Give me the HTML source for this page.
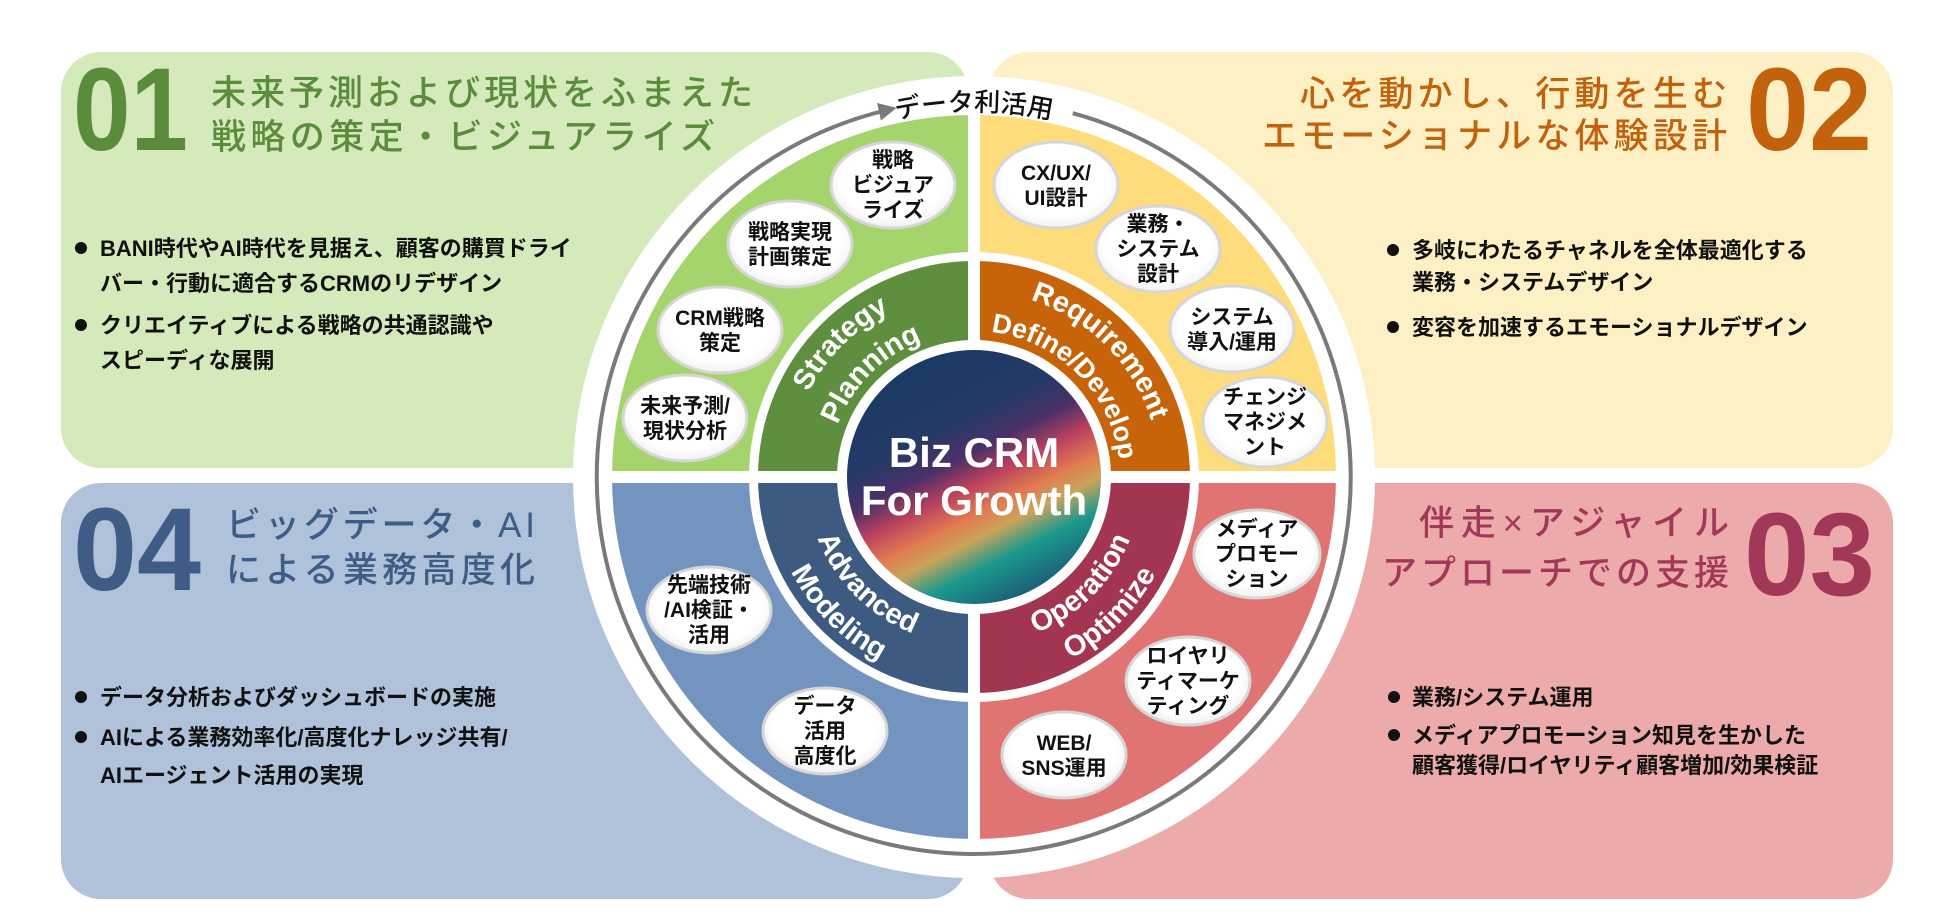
<!DOCTYPE html>
<html><head><meta charset="utf-8">
<style>
html,body{margin:0;padding:0;background:#fff;}
svg{display:block;}
text{font-family:"Liberation Sans","Noto Sans CJK JP",sans-serif;}
</style></head>
<body>
<svg width="1950" height="916" viewBox="0 0 1950 916" xmlns="http://www.w3.org/2000/svg">
<defs>
<linearGradient id="cg" x1="0.25" y1="0" x2="0.75" y2="1">
<stop offset="0" stop-color="#173a63"/>
<stop offset="0.3" stop-color="#243a66"/>
<stop offset="0.42" stop-color="#4a3068"/>
<stop offset="0.52" stop-color="#b8405e"/>
<stop offset="0.62" stop-color="#e27a50"/>
<stop offset="0.7" stop-color="#c9a45a"/>
<stop offset="0.8" stop-color="#1d9a8c"/>
<stop offset="1" stop-color="#1b4a72"/>
</linearGradient>
<radialGradient id="bub" cx="0.5" cy="0.45" r="0.6">
<stop offset="0.7" stop-color="#ffffff"/>
<stop offset="1" stop-color="#ececec"/>
</radialGradient>
<marker id="ah" viewBox="0 0 10 10" refX="8" refY="5" markerWidth="18" markerHeight="18" markerUnits="userSpaceOnUse" orient="auto"><path d="M0,0 L10,5 L0,10 z" fill="#7a7a7a"/></marker>
<path id="tArc1" d="M788,477 A186,186 0 0 1 1160,477"/>
<path id="tArc2" d="M828,477 A146,146 0 0 1 1120,477"/>
<path id="bArc1" d="M806,477 A168,168 0 0 0 1142,477"/>
<path id="bArc2" d="M768,477 A206,206 0 0 0 1180,477"/>
<path id="ringT" d="M608,477 A366,366 0 0 1 1340,477"/>
</defs>

<rect x="61" y="52" width="907" height="416" rx="40" fill="#d4eabb"/>
<rect x="989" y="52" width="904" height="416" rx="40" fill="#fdf0c5"/>
<rect x="61" y="483" width="907" height="416" rx="40" fill="#b0c2d9"/>
<rect x="989" y="483" width="904" height="416" rx="40" fill="#edaaab"/>

<circle cx="974" cy="477" r="401" fill="#fff"/>
<path d="M1072.8,113.2 A377,377 0 1 1 893,108.7" fill="none" stroke="#7a7a7a" stroke-width="4" marker-end="url(#ah)"/>
<text font-size="26" font-weight="500" fill="#111" text-anchor="middle"><textPath href="#ringT" startOffset="50%">データ利活用</textPath></text>

<path d="M974,477 L612,477 A362,362 0 0 1 974,115 Z" fill="#a5d46c"/>
<path d="M974,477 L974,115 A362,362 0 0 1 1336,477 Z" fill="#fedc7c"/>
<path d="M974,477 L1336,477 A362,362 0 0 1 974,839 Z" fill="#e07472"/>
<path d="M974,477 L974,839 A362,362 0 0 1 612,477 Z" fill="#7394bf"/>
<circle cx="974" cy="477" r="225" fill="#fff"/>
<path d="M974,477 L758,477 A216,216 0 0 1 974,261 Z" fill="#5e8f3e"/>
<path d="M974,477 L974,261 A216,216 0 0 1 1190,477 Z" fill="#c7640a"/>
<path d="M974,477 L1190,477 A216,216 0 0 1 974,693 Z" fill="#a23550"/>
<path d="M974,477 L974,693 A216,216 0 0 1 758,477 Z" fill="#3d5a80"/>
<rect x="606" y="471" width="736" height="12" fill="#fff"/>
<rect x="968" y="110" width="12" height="734" fill="#fff"/>
<circle cx="974" cy="477" r="137" fill="#fff"/>
<circle cx="974" cy="477" r="127" fill="url(#cg)"/>
<text x="974" y="467" font-size="42" font-weight="700" fill="#fff" text-anchor="middle">Biz CRM</text>
<text x="974" y="515" font-size="42" font-weight="700" fill="#fff" text-anchor="middle">For Growth</text>

<g font-size="29" font-weight="700" fill="#fff" text-anchor="middle">
<text><textPath href="#tArc1" startOffset="25%">Strategy</textPath></text>
<text><textPath href="#tArc2" startOffset="25%">Planning</textPath></text>
<text><textPath href="#tArc1" startOffset="75%">Requirement</textPath></text>
<text font-size="27"><textPath href="#tArc2" startOffset="75%">Define/Develop</textPath></text>
<text><textPath href="#bArc1" startOffset="25%">Advanced</textPath></text>
<text><textPath href="#bArc2" startOffset="25%">Modeling</textPath></text>
<text><textPath href="#bArc1" startOffset="75%">Operation</textPath></text>
<text><textPath href="#bArc2" startOffset="75%">Optimize</textPath></text>
</g>

<g stroke="#d6d6d6" stroke-width="3" fill="url(#bub)">
<ellipse cx="893" cy="185" rx="62" ry="43"/>
<ellipse cx="790" cy="244" rx="62" ry="43"/>
<ellipse cx="720" cy="330" rx="62" ry="43"/>
<ellipse cx="685" cy="418" rx="62" ry="43"/>
<ellipse cx="1056" cy="185" rx="62" ry="43"/>
<ellipse cx="1158" cy="249" rx="62" ry="43"/>
<ellipse cx="1232" cy="329" rx="62" ry="43"/>
<ellipse cx="1265" cy="422" rx="62" ry="45"/>
<ellipse cx="709" cy="610" rx="62" ry="43"/>
<ellipse cx="825" cy="731" rx="62" ry="43"/>
<ellipse cx="1257" cy="554" rx="63" ry="44"/>
<ellipse cx="1188" cy="681" rx="62" ry="44"/>
<ellipse cx="1064" cy="755" rx="62" ry="43"/>
</g>
<g font-size="21" font-weight="700" fill="#111" text-anchor="middle">
<text x="893" y="167">戦略</text><text x="893" y="192">ビジュア</text><text x="893" y="217">ライズ</text>
<text x="790" y="239">戦略実現</text><text x="790" y="264">計画策定</text>
<text x="720" y="325">CRM戦略</text><text x="720" y="350">策定</text>
<text x="685" y="413">未来予測/</text><text x="685" y="438">現状分析</text>
<text x="1056" y="180">CX/UX/</text><text x="1056" y="205">UI設計</text>
<text x="1158" y="231">業務・</text><text x="1158" y="256">システム</text><text x="1158" y="281">設計</text>
<text x="1232" y="324">システム</text><text x="1232" y="349">導入/運用</text>
<text x="1265" y="404">チェンジ</text><text x="1265" y="429">マネジメ</text><text x="1265" y="454">ント</text>
<text x="709" y="592">先端技術</text><text x="709" y="617">/AI検証・</text><text x="709" y="642">活用</text>
<text x="825" y="713">データ</text><text x="825" y="738">活用</text><text x="825" y="763">高度化</text>
<text x="1257" y="536">メディア</text><text x="1257" y="561">プロモー</text><text x="1257" y="586">ション</text>
<text x="1188" y="663">ロイヤリ</text><text x="1188" y="688">ティマーケ</text><text x="1188" y="713">ティング</text>
<text x="1064" y="750">WEB/</text><text x="1064" y="775">SNS運用</text>
</g>

<text x="73" y="150" font-size="118" font-weight="700" fill="#5b8c3c" textLength="115" lengthAdjust="spacingAndGlyphs">01</text>
<text x="211" y="105" font-size="35" font-weight="500" fill="#5b8c3c" textLength="542">未来予測および現状をふまえた</text>
<text x="211" y="149" font-size="35" font-weight="500" fill="#5b8c3c" textLength="504">戦略の策定・ビジュアライズ</text>

<text x="1746" y="150" font-size="118" font-weight="700" fill="#c2620c" textLength="126" lengthAdjust="spacingAndGlyphs">02</text>
<text x="1300" y="106" font-size="35" font-weight="500" fill="#c2620c" textLength="427">心を動かし、行動を生む</text>
<text x="1262" y="148" font-size="35" font-weight="500" fill="#c2620c" textLength="465">エモーショナルな体験設計</text>

<text x="73" y="590" font-size="118" font-weight="700" fill="#3e5c86" textLength="128" lengthAdjust="spacingAndGlyphs">04</text>
<text x="226" y="537" font-size="35" font-weight="500" fill="#3e5c86" textLength="309">ビッグデータ・AI</text>
<text x="226" y="582" font-size="35" font-weight="500" fill="#3e5c86" textLength="309">による業務高度化</text>

<text x="1744" y="595" font-size="118" font-weight="700" fill="#a23858" textLength="131" lengthAdjust="spacingAndGlyphs">03</text>
<text x="1419" y="535" font-size="35" font-weight="500" fill="#a23858" textLength="310">伴走×アジャイル</text>
<text x="1382" y="585" font-size="35" font-weight="500" fill="#a23858" textLength="347">アプローチでの支援</text>

<g fill="#111">
<circle cx="81" cy="248" r="6"/><circle cx="81" cy="325" r="6"/>
<circle cx="1393" cy="250" r="6"/><circle cx="1393" cy="327" r="6"/>
<circle cx="81" cy="697" r="6"/><circle cx="81" cy="737" r="6"/>
<circle cx="1394" cy="697" r="6"/><circle cx="1394" cy="735" r="6"/>
</g>
<g font-size="22" font-weight="700" fill="#111">
<text x="100" y="256">BANI時代やAI時代を見据え、顧客の購買ドライ</text>
<text x="100" y="291">バー・行動に適合するCRMのリデザイン</text>
<text x="100" y="333">クリエイティブによる戦略の共通認識や</text>
<text x="100" y="368">スピーディな展開</text>
<text x="1412" y="258">多岐にわたるチャネルを全体最適化する</text>
<text x="1412" y="290">業務・システムデザイン</text>
<text x="1412" y="335">変容を加速するエモーショナルデザイン</text>
<text x="100" y="705">データ分析およびダッシュボードの実施</text>
<text x="100" y="745">AIによる業務効率化/高度化ナレッジ共有/</text>
<text x="100" y="783">AIエージェント活用の実現</text>
<text x="1412" y="705">業務/システム運用</text>
<text x="1412" y="743">メディアプロモーション知見を生かした</text>
<text x="1412" y="773">顧客獲得/ロイヤリティ顧客増加/効果検証</text>
</g>
</svg>
</body></html>
